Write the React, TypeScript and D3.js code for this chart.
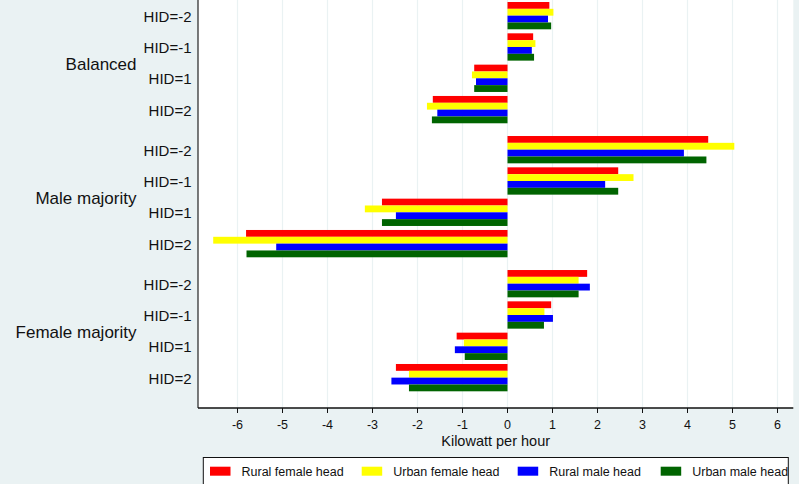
import React from "react";
import * as d3 from "d3";

const categories = ["Balanced", "Male majority", "Female majority"];
const hids = ["HID=-2", "HID=-1", "HID=1", "HID=2"];
const seriesNames = ["Rural female head", "Urban female head", "Rural male head", "Urban male head"];
const seriesColors = ["#ff0000", "#ffff00", "#0000ff", "#006400"];

// values ordered category-major, then hid
const ruralFemale = [0.93, 0.57, -0.74, -1.66, 4.46, 2.46, -2.79, -5.81, 1.77, 0.97, -1.13, -2.48];
const urbanFemale = [1.02, 0.62, -0.79, -1.79, 5.04, 2.8, -3.17, -6.54, 1.58, 0.82, -0.97, -2.19];
const ruralMale = [0.9, 0.54, -0.7, -1.56, 3.92, 2.17, -2.48, -5.14, 1.83, 1.01, -1.17, -2.58];
const urbanMale = [0.97, 0.59, -0.74, -1.68, 4.42, 2.46, -2.79, -5.8, 1.58, 0.81, -0.95, -2.19];
const seriesValues = [ruralFemale, urbanFemale, ruralMale, urbanMale];
const xTicks = [-6, -5, -4, -3, -2, -1, 0, 1, 2, 3, 4, 5, 6];

const W = 799;
const H = 484;
const plotLeft = 198;
const plotRight = 793.3;
const plotTop = 0;
const plotBottom = 408;
const font = "'Liberation Sans', Arial, sans-serif";
const legendX = [210, 361.7, 517.7, 660.7];

export default function App() {
  const x = d3.scaleLinear().domain([-6.878, 6.351]).range([plotLeft, plotRight]);
  const yCat = d3.scaleBand<string>().domain(categories).range([2, 391.3]).paddingInner(0.095).paddingOuter(0);
  const yHid = d3.scaleBand<string>().domain(hids).range([0, yCat.bandwidth()]).paddingInner(0.128).paddingOuter(0);
  const ySer = d3.scaleBand<string>().domain(seriesNames).range([0, yHid.bandwidth()]).padding(0);

  const bars: React.ReactNode[] = [];
  categories.forEach((c, ci) => {
    hids.forEach((h, hi) => {
      const idx = ci * hids.length + hi;
      seriesNames.forEach((s, si) => {
        const v = seriesValues[si][idx];
        const y0 = (yCat(c) as number) + (yHid(h) as number) + (ySer(s) as number);
        const xa = x(Math.min(0, v));
        const xb = x(Math.max(0, v));
        bars.push(
          <rect key={`${ci}-${hi}-${si}`} x={xa} y={y0} width={xb - xa} height={ySer.bandwidth()} fill={seriesColors[si]} />
        );
      });
    });
  });

  return (
    <svg width={W} height={H} style={{ position: "fixed", left: 0, top: 0, display: "block" }} fontFamily={font}>
      <rect x={0} y={0} width={W} height={H} fill="#eaf2f3" />
      <rect x={plotLeft} y={plotTop} width={plotRight - plotLeft} height={plotBottom - plotTop} fill="#ffffff" />
      {xTicks.map((t) => (
        <line key={`g${t}`} x1={x(t)} x2={x(t)} y1={plotTop} y2={plotBottom} stroke="#eaf2f3" strokeWidth={1.2} />
      ))}
      {bars}
      {/* axes */}
      <line x1={plotLeft} x2={plotLeft} y1={plotTop} y2={plotBottom} stroke="#333" strokeWidth={1.3} />
      <line x1={plotLeft} x2={plotRight} y1={plotBottom} y2={plotBottom} stroke="#111" strokeWidth={1.3} />
      {xTicks.map((t) => (
        <g key={`t${t}`}>
          <line x1={x(t)} x2={x(t)} y1={plotBottom} y2={plotBottom + 5} stroke="#111" strokeWidth={1} />
          <text x={x(t)} y={429} textAnchor="middle" fontSize={12.5} fill="#111">{t}</text>
        </g>
      ))}
      <text x={(plotLeft + plotRight) / 2} y={445.5} textAnchor="middle" fontSize={14.5} fill="#111">Kilowatt per hour</text>
      {/* y labels */}
      {categories.map((c) => (
        <g key={c}>
          <text x={136.5} y={(yCat(c) as number) + yCat.bandwidth() / 2 + 7} textAnchor="end" fontSize={17} fill="#111">{c}</text>
          {hids.map((h) => (
            <text key={h} x={191.5} y={(yCat(c) as number) + (yHid(h) as number) + yHid.bandwidth() / 2 + 6} textAnchor="end" fontSize={15} fill="#111">{h}</text>
          ))}
        </g>
      ))}
      {/* legend */}
      <rect x={203.3} y={457.5} width={585} height={40} fill="#ffffff" stroke="#111" strokeWidth={1} />
      {seriesNames.map((s, i) => (
        <g key={s}>
          <rect x={legendX[i]} y={466.7} width={20.5} height={9} fill={seriesColors[i]} />
          <text x={legendX[i] + 31.5} y={476} fontSize={12.5} fill="#111">{s}</text>
        </g>
      ))}
    </svg>
  );
}
